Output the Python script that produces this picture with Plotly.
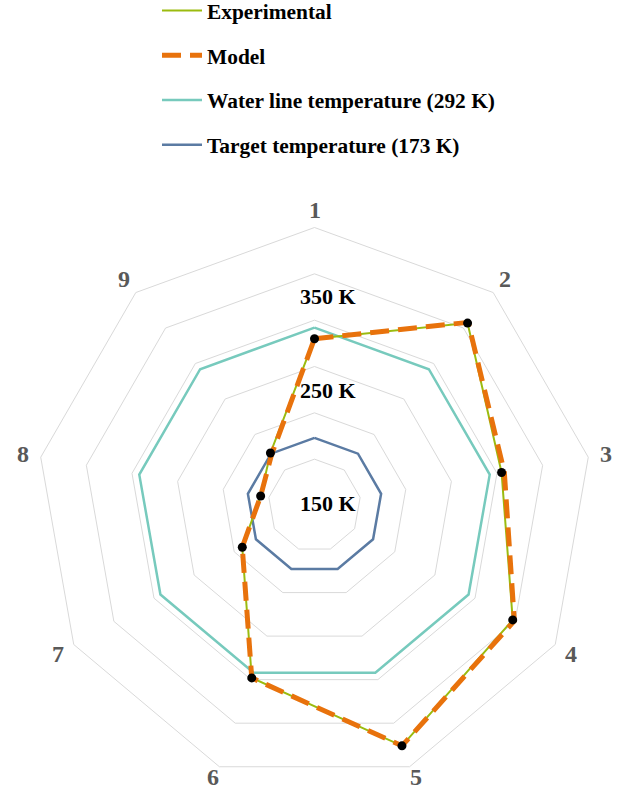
import math
import plotly.graph_objects as go

categories = ["1", "2", "3", "4", "5", "6", "7", "8", "9"]
experimental = [280, 357, 305, 347, 376, 298, 190, 159, 174]
model = [280, 358, 308, 349, 376, 298, 190, 159, 172]
water_line = [292] * 9
target = [173] * 9
radial_labels = ["350 K", "250 K", "150 K"]

def closed(v):
    return list(v) + [v[0]]

theta = closed(categories)
SERIF = "Liberation Serif, Times New Roman, serif"

fig = go.Figure()
fig.add_trace(go.Scatterpolar(r=closed(water_line), theta=theta, mode="lines",
                              name="Water line temperature (292 K)",
                              line=dict(color="#77CABD", width=2.5),
                              legendgroup="c", legendrank=3))
fig.add_trace(go.Scatterpolar(r=closed(target), theta=theta, mode="lines",
                              name="Target temperature (173 K)",
                              line=dict(color="#5B7BA3", width=2.5),
                              legendgroup="d", legendrank=4))
fig.add_trace(go.Scatterpolar(r=closed(experimental), theta=theta, mode="lines",
                              name="Experimental",
                              line=dict(color="#9BBB0F", width=2),
                              legendgroup="a", legendrank=1))
fig.add_trace(go.Scatterpolar(r=closed(model), theta=theta, mode="lines",
                              name="Model",
                              line=dict(color="#E8720C", width=5, dash="19px,9px"),
                              legendgroup="b", legendrank=2))
fig.add_trace(go.Scatterpolar(r=experimental, theta=categories, mode="markers",
                              showlegend=False,
                              marker=dict(color="black", size=9)))

W, H = 622, 793
cx, cy, R = 314.5, 505.5, 278
fig.update_layout(
    width=W, height=H,
    margin=dict(l=0, r=0, t=0, b=0, autoexpand=False),
    paper_bgcolor="white",
    plot_bgcolor="white",
    polar=dict(
        domain=dict(x=[(cx - R) / W, (cx + R) / W],
                    y=[1 - (cy + R) / H, 1 - (cy - R) / H]),
        gridshape="linear",
        bgcolor="white",
        radialaxis=dict(range=[100, 400], dtick=50, tick0=100,
                        showticklabels=False, ticks="", showline=False,
                        gridcolor="#D9D9D9", gridwidth=1),
        angularaxis=dict(direction="clockwise", rotation=90,
                         categoryorder="array", categoryarray=categories,
                         showgrid=False, showline=True, linecolor="#D9D9D9",
                         linewidth=1, ticks="", showticklabels=False),
    ),
    legend=dict(x=157 / W, y=1 + 10 / H, xanchor="left", yanchor="top",
                font=dict(family=SERIF, size=21.4, color="black", weight="bold"),
                tracegroupgap=14, itemwidth=40, bgcolor="rgba(0,0,0,0)",
                traceorder="grouped"),
    showlegend=True,
)

# category labels around the chart
LR = 296
n = len(categories)
for i, cat in enumerate(categories):
    ang = math.radians(90 - 360 * i / n)
    px = cx + LR * math.cos(ang)
    py = min(cy - LR * math.sin(ang), H - 16)
    fig.add_annotation(text=cat, x=px / W, y=1 - py / H, xref="paper", yref="paper",
                       showarrow=False, xanchor="center", yanchor="middle",
                       font=dict(family=SERIF, size=24, color="#595959", weight="bold"))

label_y = [296, 390, 503]
for txt, yy in zip(radial_labels, label_y):
    fig.add_annotation(text=txt, x=328 / W, y=1 - yy / H, xref="paper", yref="paper",
                       showarrow=False, xanchor="center", yanchor="middle",
                       font=dict(family=SERIF, size=22, color="black", weight="bold"))

fig.write_html("out.html", config={"displayModeBar": False},
               post_script="document.body.style.margin='0';document.body.style.padding='0';")
